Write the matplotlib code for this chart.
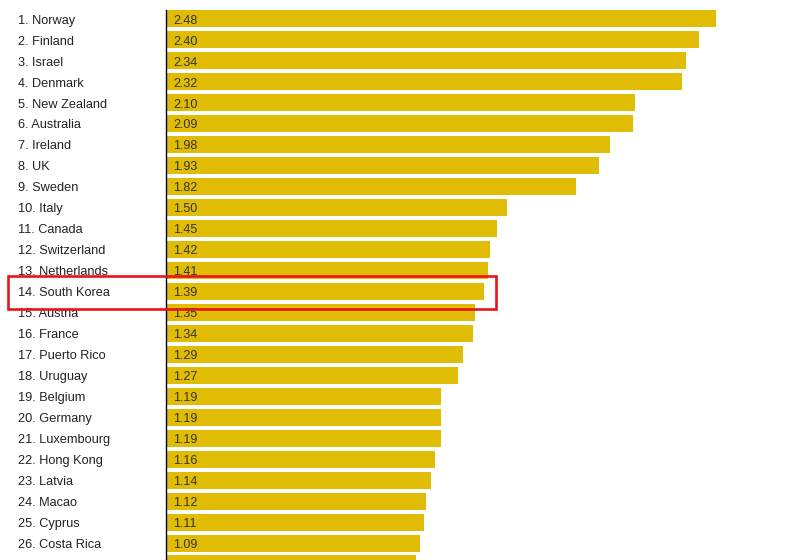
import matplotlib
import matplotlib.pyplot as plt
from matplotlib.transforms import blended_transform_factory, offset_copy
from matplotlib.patches import Rectangle

matplotlib.use('Agg')
plt.rcParams['font.family'] = ['Liberation Sans', 'DejaVu Sans']

countries = ['Norway', 'Finland', 'Israel', 'Denmark', 'New Zealand', 'Australia',
             'Ireland', 'UK', 'Sweden', 'Italy', 'Canada', 'Switzerland', 'Netherlands',
             'South Korea', 'Austria', 'France', 'Puerto Rico', 'Uruguay', 'Belgium',
             'Germany', 'Luxembourg', 'Hong Kong', 'Latvia', 'Macao', 'Cyprus',
             'Costa Rica', 'Argentina']
values = [2.48, 2.40, 2.34, 2.32, 2.10, 2.09, 1.98, 1.93, 1.82, 1.50, 1.45, 1.42, 1.41,
          1.39, 1.35, 1.34, 1.29, 1.27, 1.19, 1.19, 1.19, 1.16, 1.14, 1.12, 1.11,
          1.09, 1.07]
highlight = 'South Korea'

BAR_COLOR = '#e0bc04'
X_MIN, X_MAX = -0.1033, 2.832

fig = plt.figure(figsize=(7.91, 5.6), dpi=100)
ax = fig.add_axes([166 / 791, 0, 1 - 166 / 791, 550 / 560])

pos = list(range(len(countries)))
ax.barh(pos, [v - X_MIN for v in values], left=X_MIN, height=0.81,
        color=BAR_COLOR, zorder=2)
ax.set_xlim(X_MIN, X_MAX)
ax.set_ylim(25.81, -0.405)

for side in ['top', 'right', 'bottom']:
    ax.spines[side].set_visible(False)
ax.spines['left'].set_color('black')
ax.spines['left'].set_linewidth(1.0)
ax.set_xticks([])
ax.set_yticks([])

label_tr = offset_copy(blended_transform_factory(fig.transFigure, ax.transData),
                       fig=fig, x=0, y=-1.5, units='points')
for i, (name, v) in enumerate(zip(countries, values)):
    ax.text(18 / 791, i, f'{i + 1}. {name}', transform=label_tr, ha='left', va='center',
            fontsize=9.2, color='#222222', clip_on=False)
    ax.annotate(f'{v:.2f}', xy=(X_MIN, i), xytext=(5, -1.5), textcoords='offset points',
                ha='left', va='center', fontsize=9, color='#333333', zorder=3)

# red box around the highlighted row
k = countries.index(highlight)
box_tr = blended_transform_factory(fig.transFigure, ax.transData)
ax.add_patch(Rectangle((8 / 791, k - 0.71), (496 - 8) / 791, 1.57, transform=box_tr,
                       fill=False, edgecolor='#e8141c', linewidth=1.9, zorder=5,
                       clip_on=False))

fig.savefig('out.png', dpi=100)
